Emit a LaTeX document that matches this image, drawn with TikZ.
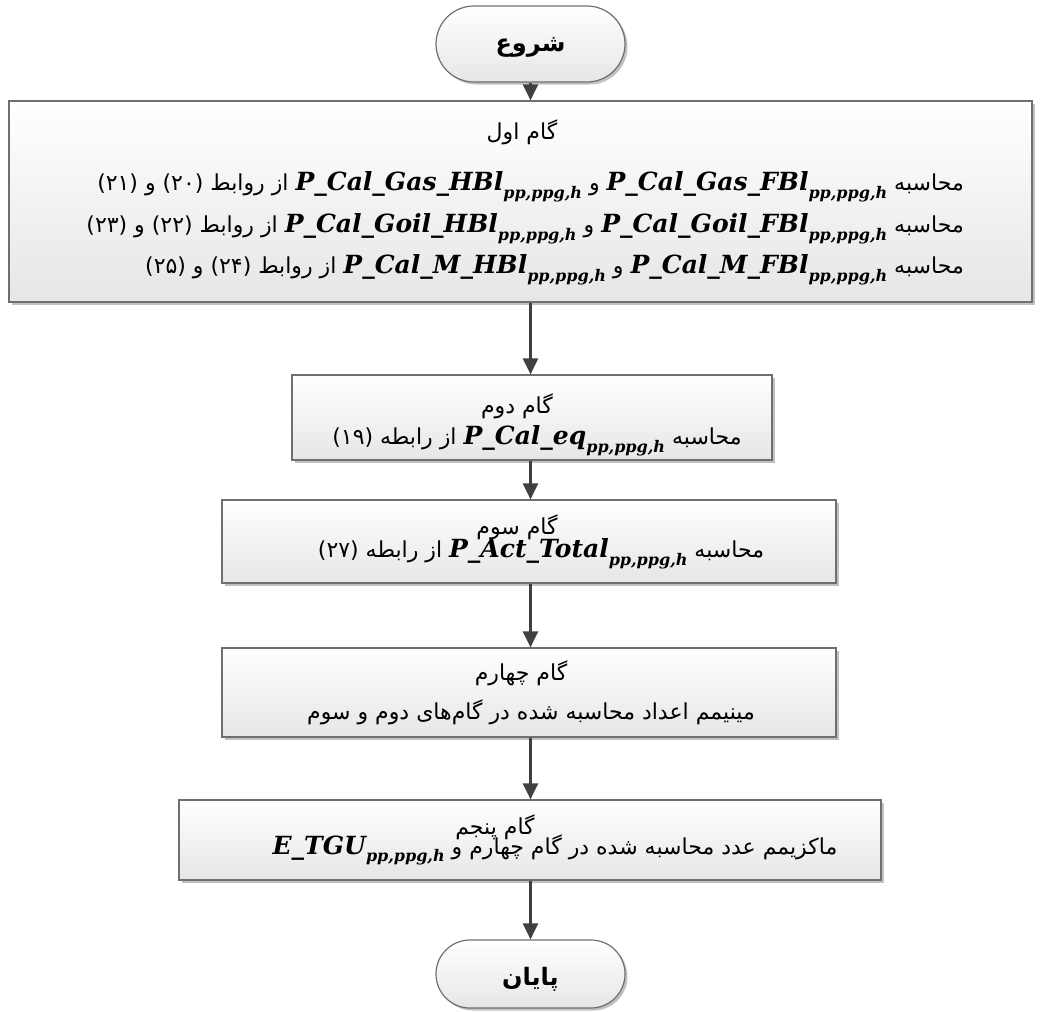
\documentclass[tikz,border=0pt]{standalone}
\usepackage{fontspec}
\usetikzlibrary{shapes.misc,shadows,arrows.meta}
\TeXXeTstate=1
\newfontfamily\fa[Script=Arabic]{DejaVu Sans}
\newfontfamily\lat{DejaVu Serif}
% bold italic variable name with its index set
\newcommand\sym[1]{\beginL{\lat\fontsize{25}{27}\selectfont\bfseries\itshape #1\raisebox{-.3em}{\fontsize{16}{16}\selectfont pp,ppg,h}}\endL{}}
\definecolor{edge}{HTML}{6F6F6F}
\definecolor{arrowc}{HTML}{404040}
\definecolor{boxbot}{HTML}{E6E6E6}
\tikzset{
  stepbox/.style={draw=edge, line width=1.2pt, top color=white, bottom color=boxbot,
    drop shadow={shadow xshift=2.5pt, shadow yshift=-2.5pt, fill=black!35, opacity=.7},
    inner sep=0pt},
  term/.style={stepbox, rounded rectangle},
  txt/.style={inner sep=0pt, font=\fa\fontsize{22}{24}\selectfont},
  ttl/.style={inner sep=0pt, font=\fa\fontsize{24}{26}\selectfont\bfseries},
  arr/.style={draw=arrowc, line width=2.5pt, -{Triangle[length=16pt,width=15pt]}},
}
\begin{document}
\begin{tikzpicture}[x=1pt,y=1pt]
\useasboundingbox (0,0) rectangle (1045,-1012);

% terminals and steps
\node[term, minimum width=189pt, minimum height=76pt] (start) at (530.5,-44) {};
\node[stepbox, minimum width=1023pt, minimum height=201pt] (s1) at (520.5,-201.5) {};
\node[stepbox, minimum width=480pt, minimum height=85pt] (s2) at (532,-417.5) {};
\node[stepbox, minimum width=614pt, minimum height=83pt] (s3) at (529,-541.5) {};
\node[stepbox, minimum width=614pt, minimum height=89pt] (s4) at (529,-692.5) {};
\node[stepbox, minimum width=702pt, minimum height=80pt] (s5) at (530,-840) {};
\node[term, minimum width=189pt, minimum height=68pt] (stop) at (530.5,-974) {};

% labels
\node[ttl] (startt) at (530.5,-47) {\beginR شروع\endR};
\node[ttl] (stopt) at (530.5,-979) {\beginR پایان\endR};

\node[txt] (s1a) at (522,-132) {\beginR گام  اول\endR};
\node[txt, anchor=east] (s1b) at (964,-187) {\beginR محاسبه \sym{P\_Cal\_Gas\_FBl} و \sym{P\_Cal\_Gas\_HBl}  از روابط (۲۰) و (۲۱)\endR};
\node[txt, anchor=east] (s1c) at (964,-229) {\beginR محاسبه \sym{P\_Cal\_Goil\_FBl} و \sym{P\_Cal\_Goil\_HBl} از روابط (۲۲) و (۲۳)\endR};
\node[txt, anchor=east] (s1d) at (964,-270) {\beginR محاسبه \sym{P\_Cal\_M\_FBl} و \sym{P\_Cal\_M\_HBl} از روابط (۲۴) و (۲۵)\endR};

\node[txt] (s2a) at (517,-406) {\beginR گام  دوم\endR};
\node[txt] (s2b) at (537,-441) {\beginR محاسبه \sym{P\_Cal\_eq}  از رابطه (۱۹)\endR};

\node[txt] (s3a) at (517,-527) {\beginR گام  سوم\endR};
\node[txt] (s3b) at (541,-554) {\beginR محاسبه \sym{P\_Act\_Total}  از رابطه (۲۷)\endR};

\node[txt] (s4a) at (521,-673) {\beginR گام چهارم\endR};
\node[txt] (s4b) at (531,-712) {\beginR مینیمم اعداد محاسبه شده در گام‌های دوم و سوم\endR};

\node[txt] (s5a) at (495,-827) {\beginR گام پنجم\endR};
\node[txt] (s5b) at (555,-850) {\beginR ماکزیمم عدد محاسبه شده در گام چهارم و \sym{E\_TGU}\endR};

% flow
\draw[arr] (start.south) -- (start.south |- s1.north);
\draw[arr] (start.south |- s1.south) -- (start.south |- s2.north);
\draw[arr] (start.south |- s2.south) -- (start.south |- s3.north);
\draw[arr] (start.south |- s3.south) -- (start.south |- s4.north);
\draw[arr] (start.south |- s4.south) -- (start.south |- s5.north);
\draw[arr] (start.south |- s5.south) -- (stop.north);
\end{tikzpicture}
\end{document}
